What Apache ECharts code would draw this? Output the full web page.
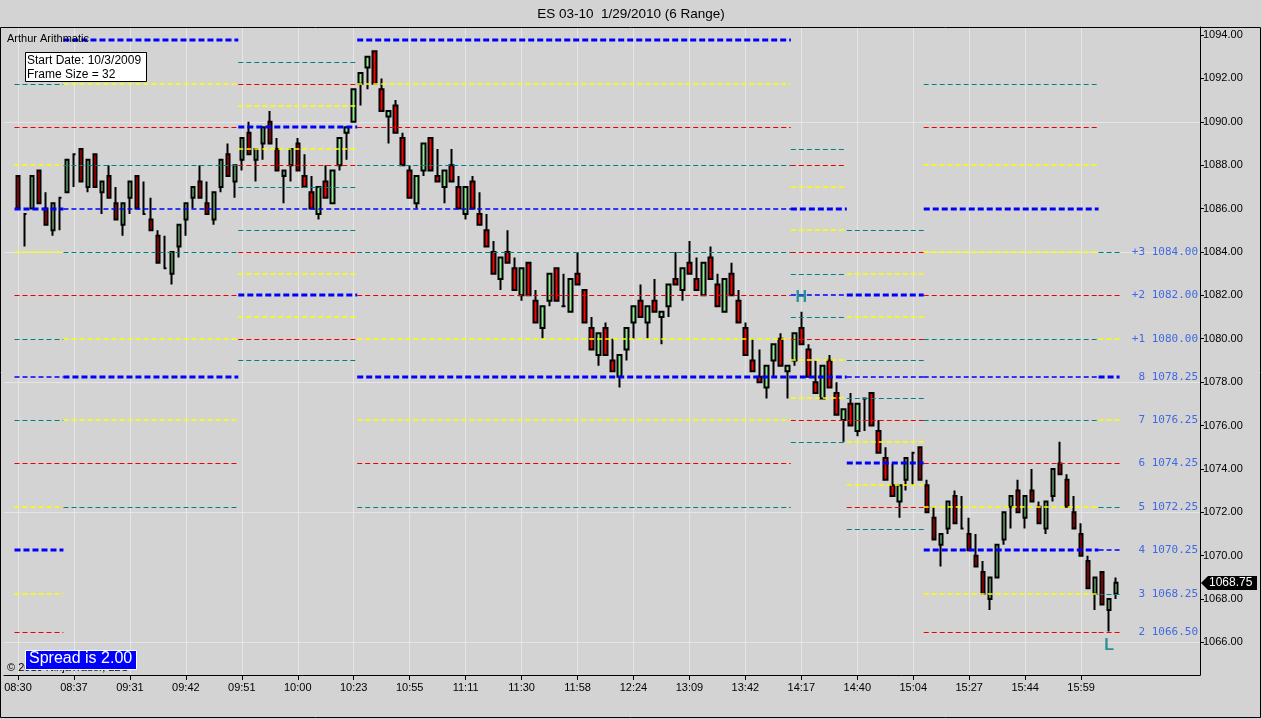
<!DOCTYPE html>
<html lang="en">
<head>
    <meta charset="UTF-8">
    <script src="https://cdn.jsdelivr.net/npm/echarts@6/dist/echarts.min.js"></script>
    <style>
        body, html {
            margin: 0;
            padding: 0;
            background: #d3d3d3;
        }

        #main {
            width: 1262px;
            height: 719px;
        }
    </style>
    <title>ES 03-10 1/29/2010 (6 Range)</title>
</head>
<body>

<div id="main"></div>
<script type="text/javascript">
    const myChart = echarts.init(document.getElementById('main'));

    // time labels, one every 8 bars
    const timeLabels = ['08:30', '08:37', '09:31', '09:42', '09:51', '10:00', '10:23', '10:55', '11:11', '11:30',
        '11:58', '12:24', '13:09', '13:42', '14:17', '14:40', '15:04', '15:27', '15:44', '15:59'];

    // 6 range bars
    const opens = [
        1087.5, 1085.75, 1086, 1087.75, 1086, 1085, 1086.5, 1086.75, 1088.5, 1088.75,
        1087, 1088.5, 1086.75, 1087.5, 1086.25, 1085.25, 1086.5, 1087.5, 1085.75, 1085.5,
        1084.75, 1083.25, 1083, 1084.25, 1085.5, 1086.5, 1087.25, 1086.25, 1085.5, 1087,
        1088.5, 1087.25, 1088.25, 1089.5, 1088.25, 1089, 1090, 1088.75, 1087.5, 1088,
        1089, 1087.5, 1086.75, 1085.75, 1087.25, 1086.25, 1088, 1089.5, 1090, 1091.75,
        1092.5, 1093.25, 1091.5, 1090.25, 1090.75, 1089.25, 1087.75, 1086.25, 1087.75, 1089.25,
        1087.5, 1087, 1088, 1087, 1085.75, 1087.25, 1085.75, 1085, 1084, 1082.75,
        1084, 1083.25, 1082, 1083.5, 1081.75, 1080.5, 1081.75, 1083.25, 1081.5, 1081.25,
        1083, 1082.25, 1080.5, 1079.25, 1080.5, 1079, 1078.25, 1079.5, 1080.75, 1081.75,
        1080.75, 1081.75, 1081, 1081.5, 1082.75, 1082.25, 1083.5, 1082.75, 1082, 1083.75,
        1082.5, 1081.25, 1083, 1081.75, 1080.5, 1079, 1078.25, 1077.75, 1079, 1080,
        1078.5, 1079, 1080.5, 1079.5, 1078, 1077.25, 1079, 1077.5, 1076.25, 1077,
        1075.75, 1077.25, 1077.5, 1075.75, 1074.5, 1073.25, 1072.5, 1073.5, 1074.75, 1075,
        1073.25, 1071.75, 1070.5, 1071.25, 1072.75, 1071.25, 1071, 1070, 1069.25, 1068,
        1069, 1070.75, 1072.25, 1073, 1071.75, 1073, 1072.25, 1071.25, 1072.75, 1074.25,
        1073.5, 1072, 1071, 1069.75, 1068.25, 1069.25, 1067.5, 1068.25
    ];
    const closes = [
        1086, 1085.75, 1087.5, 1086.25, 1085.25, 1086.25, 1086.5, 1088.25, 1088.5, 1087.25,
        1088.25, 1087, 1087.25, 1086.5, 1085.5, 1086.25, 1087.25, 1086, 1085.75, 1085,
        1083.5, 1083.25, 1084, 1085.25, 1086.25, 1087, 1086.5, 1085.75, 1086.75, 1088.25,
        1087.5, 1088, 1089.25, 1088.5, 1088.75, 1089.75, 1089, 1087.75, 1087.75, 1088.75,
        1087.75, 1087, 1086, 1087, 1086.5, 1087.75, 1089.25, 1089.75, 1091.5, 1092.25,
        1093, 1091.75, 1090.5, 1090.5, 1089.5, 1088, 1086.5, 1087.5, 1089, 1087.75,
        1087.25, 1087.75, 1087.25, 1086, 1087, 1086, 1085.25, 1084.25, 1083, 1083.75,
        1083.5, 1082.25, 1083.25, 1082, 1080.75, 1081.5, 1083, 1081.75, 1081.5, 1082.75,
        1082.5, 1080.75, 1079.5, 1080.25, 1079.25, 1078.5, 1079.25, 1080.5, 1081.5, 1081,
        1081.5, 1081.25, 1081.25, 1082.5, 1082.5, 1083.25, 1083, 1082.25, 1083.5, 1082.75,
        1081.5, 1082.75, 1082, 1080.75, 1079.25, 1078.5, 1078, 1078.75, 1079.75, 1078.75,
        1078.75, 1080.25, 1079.75, 1078.25, 1077.5, 1078.75, 1077.75, 1076.5, 1076.75, 1076,
        1077, 1077.25, 1076, 1074.75, 1073.5, 1072.75, 1073.25, 1074.5, 1074.75, 1073.5,
        1072, 1070.75, 1071, 1072.5, 1071.5, 1071.25, 1070.25, 1069.5, 1068.25, 1069,
        1070.5, 1072, 1072.75, 1072, 1072.75, 1072.5, 1071.5, 1072.5, 1074, 1073.75,
        1072.25, 1071.25, 1070, 1068.5, 1069, 1067.75, 1068, 1068.75
    ];
    const lows = [
        1086, 1084.25, 1086, 1086.25, 1085.25, 1084.75, 1085, 1086.75, 1087, 1087.25,
        1086.75, 1087, 1085.75, 1086.5, 1085.5, 1084.75, 1085.75, 1086, 1085.75, 1085,
        1083.5, 1083.25, 1082.5, 1083.75, 1084.75, 1086, 1086.5, 1085.75, 1085.25, 1086.75,
        1087.5, 1086.5, 1087.75, 1088.5, 1087.25, 1088.25, 1089, 1087.75, 1086.25, 1087.25,
        1087.75, 1087, 1086, 1085.5, 1086.5, 1086.25, 1087.75, 1088.25, 1090, 1090.75,
        1091.5, 1091.75, 1090.5, 1089, 1089.5, 1088, 1086.5, 1086, 1087.5, 1087.75,
        1087.25, 1086.25, 1087.25, 1086, 1085.5, 1086, 1085.25, 1084.25, 1083, 1082.25,
        1083.5, 1082.25, 1081.75, 1082, 1080.75, 1080, 1081.5, 1081.75, 1081.5, 1081.25,
        1082.5, 1080.75, 1079.5, 1078.75, 1079.25, 1078.5, 1077.75, 1079, 1080, 1081,
        1080, 1081.25, 1079.75, 1081, 1082.5, 1081.75, 1083, 1082.25, 1082, 1082.75,
        1081.5, 1081.25, 1082, 1080.75, 1079.25, 1078.5, 1078, 1077.25, 1078.25, 1078.75,
        1077.25, 1078.75, 1079.75, 1078.25, 1077.5, 1077.25, 1077.75, 1076.5, 1075.25, 1076,
        1075.5, 1075.75, 1076, 1074.75, 1073.5, 1072.75, 1071.75, 1073, 1073.25, 1073.5,
        1072, 1070.75, 1069.5, 1071, 1071.5, 1071.25, 1070.25, 1069.5, 1068.25, 1067.5,
        1069, 1070.5, 1071.25, 1072, 1071.25, 1072.5, 1071.5, 1071, 1072.5, 1073.75,
        1072.25, 1071.25, 1070, 1068.5, 1067.5, 1067.75, 1066.5, 1068
    ];
    const highs = [
        1087.5, 1085.75, 1087.5, 1087.75, 1086.75, 1086.25, 1086.5, 1088.25, 1088.5, 1088.75,
        1088.25, 1088.5, 1087.25, 1088, 1087, 1086.25, 1087.25, 1087.5, 1087.25, 1086.5,
        1085, 1084.75, 1084, 1085.25, 1086.25, 1087, 1088, 1087.25, 1086.75, 1088.25,
        1089, 1088, 1089.25, 1090, 1088.75, 1089.75, 1090.5, 1089.25, 1087.75, 1088.75,
        1089.25, 1088.5, 1087.5, 1087, 1088, 1087.75, 1089.25, 1089.75, 1091.5, 1092.25,
        1093, 1093.25, 1092, 1090.5, 1091, 1089.5, 1088, 1087.5, 1089, 1089.25,
        1088.75, 1087.75, 1088.75, 1087.5, 1087, 1087.5, 1086.75, 1085.75, 1084.5, 1083.75,
        1085, 1083.75, 1083.25, 1083.5, 1082.25, 1081.5, 1083, 1083.25, 1083, 1082.75,
        1084, 1082.25, 1081, 1080.25, 1080.75, 1080, 1079.25, 1080.5, 1081.5, 1082.5,
        1081.5, 1082.75, 1081.25, 1082.5, 1084, 1083.25, 1084.5, 1083.75, 1083.5, 1084.25,
        1083, 1082.75, 1083.5, 1082.25, 1080.75, 1080, 1079.5, 1078.75, 1079.75, 1080.25,
        1078.75, 1080.25, 1081.25, 1079.75, 1079, 1078.75, 1079.25, 1078, 1076.75, 1077.5,
        1077, 1077.25, 1077.5, 1076.25, 1075, 1074.25, 1073.25, 1074.5, 1074.75, 1075,
        1073.5, 1072.25, 1071, 1072.5, 1073, 1072.75, 1071.75, 1071, 1069.75, 1069,
        1070.5, 1072, 1072.75, 1073.5, 1072.75, 1074, 1072.5, 1072.5, 1074, 1075.25,
        1073.75, 1072.75, 1071.5, 1070, 1069, 1069.25, 1068, 1069
    ];

    // Arithmetic frames: bar span, number of the lowest level shown, level prices
    const frameFrom = [-0.5, 6.5, 31.5, 48.5, 110.5, 118.5, 129.5, 154.5];
    const frameTo = [6.5, 31.5, 48.5, 110.5, 118.5, 129.5, 154.5, 157.5];
    const frameFirstLevel = [-2, -3, -3, -3, -3, -3, -2, 2];
    const frameLevels = [
        [1066.5, 1068.25, 1070.25, 1072.25, 1074.25, 1076.25, 1078.25, 1080, 1082, 1084, 1086, 1088, 1089.75, 1091.75],
        [1072.25, 1074.25, 1076.25, 1078.25, 1080, 1082, 1084, 1086, 1088, 1089.75, 1091.75, 1093.75],
        [1079, 1080, 1081, 1082, 1083, 1084, 1085, 1086, 1087, 1088, 1088.75, 1089.75, 1090.75, 1091.75, 1092.75],
        [1072.25, 1074.25, 1076.25, 1078.25, 1080, 1082, 1084, 1086, 1088, 1089.75, 1091.75, 1093.75],
        [1075.25, 1076.25, 1077.25, 1078.25, 1079, 1080, 1081, 1082, 1083, 1084, 1085, 1086, 1087, 1088, 1088.75],
        [1071.25, 1072.25, 1073.25, 1074.25, 1075.25, 1076.25, 1077.25, 1078.25, 1079, 1080, 1081, 1082, 1083, 1084, 1085],
        [1066.5, 1068.25, 1070.25, 1072.25, 1074.25, 1076.25, 1078.25, 1080, 1082, 1084, 1086, 1088, 1089.75, 1091.75],
        [1066.5, 1068.25, 1070.25, 1072.25, 1074.25, 1076.25, 1078.25, 1080, 1082, 1084]
    ];
    // names of the current frame's levels (labels at the right)
    const levelNames = ['2', '3', '4', '5', '6', '7', '8', '+1', '+2', '+3'];

    const markBars = [112, 156];
    const markTexts = ['H', 'L'];
    const gridPrices = [1066, 1072, 1078, 1084, 1090];

    const LEAD = 2;      // empty slots before the first bar
    const SLOTS = 172;   // slots on the time axis, incl. room for the labels

    const categories = [];
    for (let i = 0; i < SLOTS; i++) {
        const b = i - LEAD;
        categories.push(b >= 0 && b % 8 === 0 && b / 8 < timeLabels.length ? timeLabels[b / 8] : '');
    }
    const hasLabel = function (index, value) {
        return value !== '';
    };

    const candleData = opens.map(function (o, i) {
        return [i + LEAD, o, closes[i], lows[i], highs[i]];
    });

    const segments = [];
    frameLevels.forEach(function (prices, f) {
        prices.forEach(function (p, j) {
            segments.push([frameFrom[f] + LEAD, frameTo[f] + LEAD, p, frameFirstLevel[f] + j]);
        });
    });
    const lastFrame = frameLevels.length - 1;

    // level number mod 8 -> line look
    const LEVEL_STYLE = [
        {stroke: '#0000ff', lineWidth: 3, lineDash: [6, 3]},
        {stroke: '#ffff00', lineWidth: 1.5, lineDash: [5, 3]},
        {stroke: '#ee0000', lineWidth: 1, lineDash: [5, 3]},
        {stroke: '#008080', lineWidth: 1, lineDash: [5, 3]},
        {stroke: '#0000ff', lineWidth: 1.5, lineDash: [5, 3]},
        {stroke: '#008080', lineWidth: 1, lineDash: [5, 3]},
        {stroke: '#ee0000', lineWidth: 1, lineDash: [5, 3]},
        {stroke: '#ffff00', lineWidth: 1.5, lineDash: [5, 3]}
    ];

    function renderLevel(params, api) {
        const p1 = api.coord([api.value(0), api.value(2)]);
        const p2 = api.coord([api.value(1), api.value(2)]);
        const st = LEVEL_STYLE[((api.value(3) % 8) + 8) % 8];
        const y = Math.round(p1[1]) + (st.lineWidth === 1 ? 0.5 : 0);
        return {
            type: 'line',
            silent: true,
            shape: {x1: p1[0], y1: y, x2: p2[0], y2: y},
            style: {stroke: st.stroke, lineWidth: st.lineWidth, lineDash: st.lineDash}
        };
    }

    function renderGrid(params, api) {
        const p1 = api.coord([0, api.value(0)]);
        const p2 = api.coord([SLOTS - 1, api.value(0)]);
        const y = Math.round(p1[1]) + 0.5;
        return {
            type: 'line',
            silent: true,
            shape: {x1: p1[0], y1: y, x2: p2[0], y2: y},
            style: {stroke: '#e6e6e6', lineWidth: 1}
        };
    }

    function renderLevelLabel(params, api) {
        const price = api.value(0);
        const pt = api.coord([SLOTS - 1, price]);
        return {
            type: 'text',
            silent: true,
            x: pt[0] - 2,
            y: Math.round(pt[1]),
            style: {
                text: levelNames[params.dataIndex] + ' ' + price.toFixed(2),
                fill: '#4169e1',
                font: '11px "DejaVu Sans Mono"',
                align: 'right',
                verticalAlign: 'middle',
                textAlign: 'right',
                textVerticalAlign: 'middle'
            }
        };
    }

    var option = {
        backgroundColor: '#d3d3d3',
        animation: false,
        title: {
            text: 'ES 03-10  1/29/2010 (6 Range)',
            left: 'center',
            top: 2,
            textStyle: {fontSize: 13.5, fontWeight: 'normal', color: '#000', fontFamily: 'Liberation Sans'}
        },
        grid: {left: 4, right: 62, top: 27, bottom: 44, outerBoundsMode: 'none'},
        xAxis: [
            {
                type: 'category',
                data: categories,
                boundaryGap: false,
                axisLine: {onZero: false, lineStyle: {color: '#000', width: 1}},
                axisTick: {interval: hasLabel, length: 5, lineStyle: {color: '#000'}},
                axisLabel: {
                    interval: hasLabel, color: '#000', fontSize: 11,
                    fontFamily: 'Liberation Sans', margin: 7
                },
                splitLine: {show: true, interval: hasLabel, lineStyle: {color: '#e6e6e6', width: 1}}
            },
            {
                type: 'value',
                min: 0,
                max: SLOTS - 1,
                show: false,
                axisLine: {onZero: false}
            }
        ],
        yAxis: {
            type: 'value',
            position: 'right',
            min: 1064.5,
            max: 1094.37,
            splitNumber: 15,
            scale: true,
            axisLine: {show: true, onZero: false, lineStyle: {color: '#000', width: 1}},
            axisTick: {show: true, length: 4, lineStyle: {color: '#000'}},
            axisLabel: {
                color: '#000', fontSize: 11, fontFamily: 'Liberation Sans', margin: 3,
                showMinLabel: false, showMaxLabel: false,
                formatter: function (v) {
                    return v.toFixed(2);
                }
            },
            splitLine: {show: false}
        },
        series: [
            {
                type: 'custom',
                name: 'grid',
                xAxisIndex: 1,
                z: 1,
                silent: true,
                renderItem: renderGrid,
                encode: {y: 0},
                data: gridPrices.map(function (p) {
                    return [p];
                })
            },
            {
                type: 'candlestick',
                name: 'ES 03-10',
                xAxisIndex: 0,
                z: 2,
                barWidth: 4,
                encode: {x: 0, y: [1, 2, 3, 4]},
                itemStyle: {
                    color: '#90ee90',
                    color0: '#ff0000',
                    borderColor: '#000',
                    borderColor0: '#000',
                    borderColorDoji: '#000',
                    borderWidth: 2
                },
                data: candleData
            },
            {
                type: 'custom',
                name: 'Arthur Arithmatic',
                xAxisIndex: 1,
                z: 3,
                silent: true,
                renderItem: renderLevel,
                encode: {x: [0, 1], y: 2},
                data: segments
            },
            {
                type: 'custom',
                name: 'levels',
                xAxisIndex: 1,
                z: 4,
                silent: true,
                renderItem: renderLevelLabel,
                encode: {y: 0},
                data: frameLevels[lastFrame].map(function (p) {
                    return [p];
                })
            },
            {
                type: 'scatter',
                name: 'swing',
                xAxisIndex: 1,
                z: 4,
                silent: true,
                symbolSize: 0,
                label: {
                    show: true,
                    color: '#008080',
                    fontSize: 16,
                    fontWeight: 'bold',
                    fontFamily: 'Liberation Sans',
                    distance: 6,
                    formatter: function (p) {
                        return markTexts[p.dataIndex];
                    }
                },
                data: [
                    {value: [markBars[0] + LEAD, highs[markBars[0]]], label: {position: 'top'}},
                    {value: [markBars[1] + LEAD, lows[markBars[1]]], label: {position: 'bottom'}}
                ]
            }
        ],
        graphic: [
            {
                id: 'frame', type: 'rect', silent: true, z: 10,
                shape: {x: 0.5, y: 27.5, width: 1260, height: 690},
                style: {fill: 'none', stroke: '#000', lineWidth: 1}
            },
            {
                id: 'indName', type: 'text', left: 7, top: 33, z: 10,
                style: {text: 'Arthur Arithmatic', fill: '#000', font: '11px "Liberation Sans"'}
            },
            {
                id: 'infoBox', type: 'rect', z: 10,
                shape: {x: 25.5, y: 52.5, width: 121, height: 29},
                style: {fill: '#fff', stroke: '#000', lineWidth: 1}
            },
            {
                id: 'infoText', type: 'text', left: 27, top: 53, z: 11,
                style: {
                    text: 'Start Date: 10/3/2009\nFrame Size = 32',
                    fill: '#000', font: '12px "Liberation Sans"', lineHeight: 14.5
                }
            },
            {
                id: 'copy', type: 'text', left: 7, top: 662, z: 10,
                style: {text: '\u00a9 2010 NinjaTrader, LLC', fill: '#000', font: '11px "Liberation Sans"'}
            },
            {
                id: 'spreadBox', type: 'rect', z: 11,
                shape: {x: 25.5, y: 650.5, width: 111, height: 19},
                style: {fill: '#0000ff', stroke: '#fff', lineWidth: 1}
            },
            {
                id: 'spreadText', type: 'text', left: 29, top: 651, z: 12,
                style: {text: 'Spread is 2.00', fill: '#fff', font: '16px "Liberation Sans"'}
            }
        ]
    };
    myChart.setOption(option);

    // last price marker on the price axis
    const lastClose = closes[closes.length - 1];
    const py = Math.round(myChart.convertToPixel({yAxisIndex: 0}, lastClose));
    myChart.setOption({
        graphic: [
            {
                id: 'priceBox', type: 'polygon', z: 12,
                shape: {points: [[1201, py], [1208, py - 7], [1257, py - 7], [1257, py + 7], [1208, py + 7]]},
                style: {fill: '#000'}
            },
            {
                id: 'priceText', type: 'text', z: 13, x: 1209, y: py,
                style: {
                    text: lastClose.toFixed(2), fill: '#fff', font: '12px "Liberation Sans"',
                    verticalAlign: 'middle', textVerticalAlign: 'middle'
                }
            }
        ]
    });

</script>
</body>
</html>
